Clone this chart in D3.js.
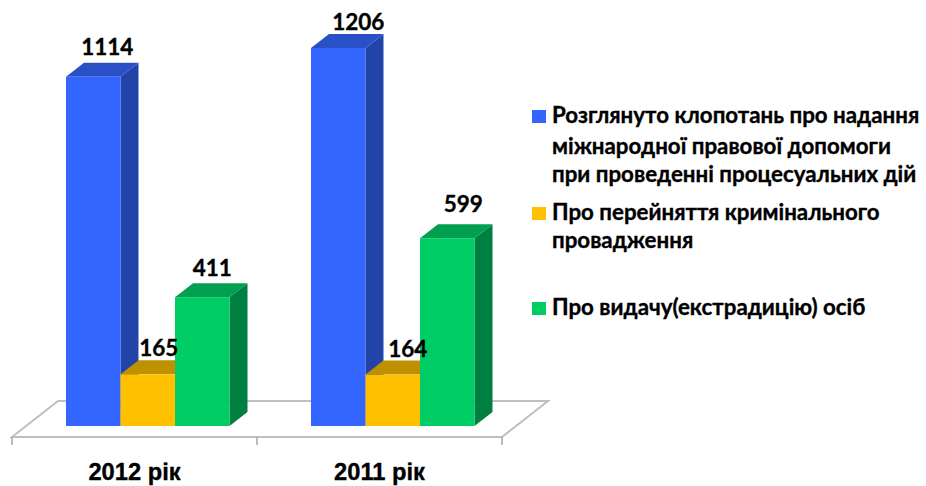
<!DOCTYPE html>
<html>
<head>
<meta charset="utf-8">
<script src="https://cdn.jsdelivr.net/npm/d3@7"></script>
<style>
  html, body { margin: 0; background: #fff; }
  text { font-family: Lato, "Open Sans", sans-serif; font-weight: 700; fill: #000; stroke: #000; stroke-width: 0.35; }
</style>
</head>
<body>
<svg id="chart" width="926" height="486"></svg>
<script>
const years = ['2012 рік', '2011 рік']
const seriesKeys = ['requests', 'transfer', 'extradition']
const requests = [1114, 1206]
const transfer = [165, 164]
const extradition = [411, 599]
const legendLines = [
    ['Розглянуто клопотань про надання', 'міжнародної правової допомоги', 'при проведенні процесуальних дій'],
    ['Про перейняття кримінального', 'провадження'],
    ['Про видачу(екстрадицію) осіб']
]

const valuesByKey = { requests, transfer, extradition }
const colors = {
    requests: { front: '#3366ff', top: '#2a50c8', side: '#2244a8' },
    transfer: { front: '#ffc000', top: '#bf9000', side: '#bf9000' },
    extradition: { front: '#00cc66', top: '#00a050', side: '#008040' }
}

const svg = d3.select('#chart')
const baseY = 426, depthX = 18, depthY = 14

const xGroup = d3.scaleBand().domain(years).range([12, 502])
const xBar = d3.scaleBand().domain(seriesKeys).range([54, 217.5])
const y = d3.scaleLinear().domain([0, 1206]).range([baseY, 48])

// floor
const floorFront = 437, floorBack = 401, floorDx = 46
svg.append('path')
    .attr('d', `M${xGroup.range()[0]},${floorFront} L${xGroup.range()[0] + floorDx},${floorBack} L${xGroup.range()[1] + floorDx},${floorBack} L${xGroup.range()[1]},${floorFront} Z`)
    .attr('fill', '#fff')
    .attr('stroke', '#bfbfbf')
    .attr('stroke-width', 2)

const xAxis = d3.axisBottom(xGroup).tickSize(0).tickPadding(26)
const axisG = svg.append('g')
    .attr('transform', `translate(0, ${floorFront})`)
    .call(xAxis)
axisG.select('.domain').remove()
axisG.selectAll('text')
    .style('font-family', 'inherit')
    .attr('font-size', 23.7)

// ticks sit on band edges, not centres
const tickXs = years.map(d => xGroup(d)).concat(xGroup.range()[1])
svg.selectAll('.edge-tick')
    .data(tickXs)
    .join('line')
    .attr('class', 'edge-tick')
    .attr('x1', d => d).attr('x2', d => d)
    .attr('y1', floorFront).attr('y2', floorFront + 8)
    .attr('stroke', '#a6a6a6')
    .attr('stroke-width', 1.5)

// bars
const bars = []
years.forEach((year, i) => {
    seriesKeys.forEach(key => bars.push({ year, key, value: valuesByKey[key][i] }))
})

const barG = svg.selectAll('.bar')
    .data(bars)
    .join('g')
    .attr('class', 'bar')

barG.append('path')
    .attr('fill', d => colors[d.key].side)
    .attr('d', d => {
        const r = xGroup(d.year) + xBar(d.key) + xBar.bandwidth()
        return `M${r},${y(d.value)} l${depthX},${-depthY} L${r + depthX},${baseY - depthY} L${r},${baseY} Z`
    })
barG.append('path')
    .attr('fill', d => colors[d.key].top)
    .attr('d', d => {
        const l = xGroup(d.year) + xBar(d.key)
        return `M${l},${y(d.value)} l${depthX},${-depthY} h${xBar.bandwidth()} l${-depthX},${depthY} Z`
    })
barG.append('rect')
    .attr('fill', d => colors[d.key].front)
    .attr('x', d => xGroup(d.year) + xBar(d.key))
    .attr('y', d => y(d.value))
    .attr('width', xBar.bandwidth())
    .attr('height', d => baseY - y(d.value))

// value labels go over every bar, hand placed like in the original
const nudgeX = [14, 11, 10, 20, 15, 16]
const nudgeY = [22, 18, 21, 18, 18, 26]
svg.selectAll('.value-label')
    .data(bars)
    .join('text')
    .attr('class', 'value-label')
    .attr('text-anchor', 'middle')
    .attr('font-size', 22.5)
    .attr('x', (d, i) => xGroup(d.year) + xBar(d.key) + xBar.bandwidth() / 2 + nudgeX[i])
    .attr('y', (d, i) => y(d.value) - nudgeY[i])
    .text(d => d.value)

// legend
const legendX = 532, legendTextX = 552
const lineYs = [[123, 154, 182], [220, 248], [315]]
const legendG = svg.selectAll('.legend-item')
    .data(seriesKeys)
    .join('g')
    .attr('class', 'legend-item')

legendG.append('rect')
    .attr('x', legendX)
    .attr('y', (d, i) => lineYs[i][0] - 13)
    .attr('width', 14)
    .attr('height', 13)
    .attr('fill', d => colors[d].front)

legendG.each(function(d, i) {
    d3.select(this).selectAll('text')
        .data(legendLines[i])
        .join('text')
        .attr('x', legendTextX)
        .attr('y', (t, j) => lineYs[i][j])
        .attr('font-size', 22.3)
        .text(t => t)
})
</script>
</body>
</html>
